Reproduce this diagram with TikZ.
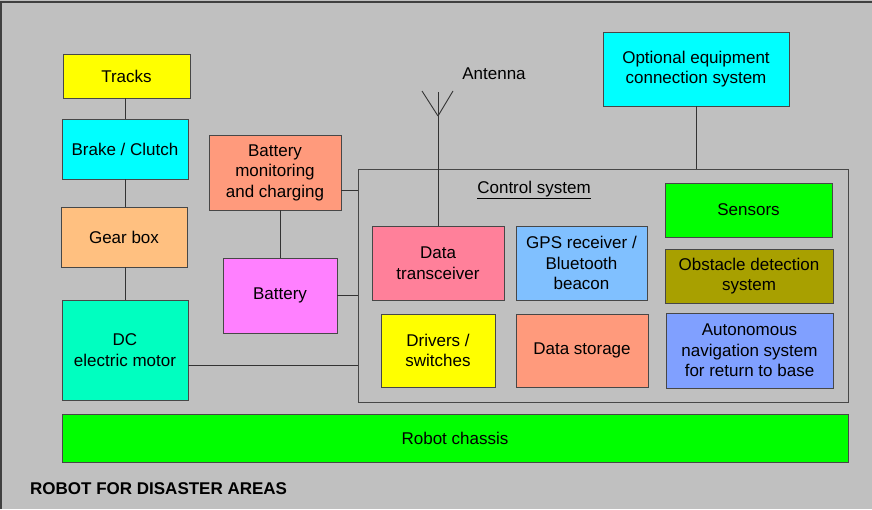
\documentclass[tikz,border=0pt]{standalone}
\usepackage{fontspec}
\setmainfont{Liberation Sans}
\usetikzlibrary{positioning,calc}
\definecolor{panelgray}{HTML}{C0C0C0}
\definecolor{aqua}{HTML}{00FFFF}
\definecolor{brightgreen}{HTML}{00FF00}
\definecolor{brightyellow}{HTML}{FFFF00}
\definecolor{mintgreen}{HTML}{00FFC0}
\definecolor{lightorange}{HTML}{FFC080}
\definecolor{salmon}{HTML}{FF9A7C}
\definecolor{violetpink}{HTML}{FF80FF}
\definecolor{rosepink}{HTML}{FF809A}
\definecolor{skyblue}{HTML}{80C0FF}
\definecolor{olive}{HTML}{A8A000}
\definecolor{periwinkle}{HTML}{80A0FF}
\tikzset{
  unit/.style={draw=black!72,line width=0.9pt,align=center,inner sep=0pt,
    font=\fontsize{17}{20.5}\selectfont},
  wire/.style={draw=black!80,line width=0.9pt}
}

\begin{document}
\begin{tikzpicture}[x=1pt,y=-1pt,
  label text/.style={font=\fontsize{17}{20.5}\selectfont,inner sep=0pt}
]
  \useasboundingbox (0,0) rectangle (872,509);
  \fill[panelgray] (0,0) rectangle (872,509);
  \draw[black!75,line width=1.4pt] (1,509) -- (1,2) -- (872,2);
  \node[unit,fill=brightyellow,minimum width=127pt,minimum height=44pt] (tracks) at (126.5,76) {Tracks};
  \node[unit,fill=aqua,minimum width=126pt,minimum height=60pt] (brake) at (125,149) {Brake / Clutch};
  \node[unit,fill=lightorange,minimum width=126pt,minimum height=60pt] (gearbox) at (124,237) {Gear box};
  \node[unit,fill=mintgreen,minimum width=126pt,minimum height=100pt] (dcmotor) at (125,350) {DC\\electric motor};
  \node[unit,fill=salmon,minimum width=132pt,minimum height=75pt] (batmon) at (275,172.5) {Battery\\monitoring\\and charging};
  \node[unit,fill=violetpink,minimum width=114pt,minimum height=75pt] (battery) at (280,295.5) {Battery};
  \node[unit,minimum width=490pt,minimum height=233pt] (ctrl) at (603,285.5) {};
  \node[label text] (ctrllabel) at (534,190) {\underline{Control system}};
  \node[unit,fill=aqua,minimum width=186pt,minimum height=74pt] (optional) at (696,69) {Optional equipment\\connection system};
  \node[unit,fill=brightgreen,minimum width=167pt,minimum height=54pt] (sensors) at (748.5,210) {Sensors};
  \node[unit,fill=olive,minimum width=168pt,minimum height=54pt] (obstacle) at (749,276) {Obstacle detection\\system};
  \node[unit,fill=periwinkle,minimum width=167pt,minimum height=75pt] (autonav) at (749.5,350.5) {Autonomous\\navigation system\\for return to base};
  \node[unit,fill=rosepink,minimum width=132pt,minimum height=74pt] (transceiver) at (438,263) {Data\\transceiver};
  \node[unit,fill=skyblue,minimum width=131pt,minimum height=74pt] (gps) at (581.5,263) {GPS receiver /\\Bluetooth\\beacon};
  \node[unit,fill=brightyellow,minimum width=114pt,minimum height=73pt] (drivers) at (438,350.5) {Drivers /\\switches};
  \node[unit,fill=salmon,minimum width=132pt,minimum height=73pt] (storage) at (582,350.5) {Data storage};
  \node[unit,fill=brightgreen,minimum width=786pt,minimum height=48pt] (chassis) at (455,438) {Robot chassis};
  \node[label text] (antennalabel) at (494,74) {Antenna};
  \node[label text,anchor=west,font=\fontsize{17}{20}\selectfont\bfseries] (title) at (30,489) {ROBOT FOR DISASTER AREAS};
  \coordinate (antfeed) at (438,116);
  \coordinate (antmast) at (438,92);
  \coordinate (motortap) at ($(dcmotor.south east)!0.35!(dcmotor.north east)$);
  \coordinate (monitortap) at ($(batmon.south east)!0.27!(batmon.north east)$);
  \draw[wire] (brake.north) -- (brake.north |- tracks.south);
  \draw[wire] (brake.south) -- (brake.south |- gearbox.north);
  \draw[wire] (dcmotor.north) -- (dcmotor.north |- gearbox.south);
  \draw[wire] (motortap) -- (ctrl.west |- motortap);
  \draw[wire] (monitortap) -- (ctrl.west |- monitortap);
  \draw[wire] (battery.east) -- (ctrl.west |- battery.east);
  \draw[wire] (battery.north) -- (battery.north |- batmon.south);
  \draw[wire] (optional.south) -- (optional.south |- ctrl.north);
  \draw[wire] (transceiver.north) -- (antmast);
  \draw[wire] (antfeed) -- ++(-16,-25) (antfeed) -- ++(15,-25);
\end{tikzpicture}
\end{document}
